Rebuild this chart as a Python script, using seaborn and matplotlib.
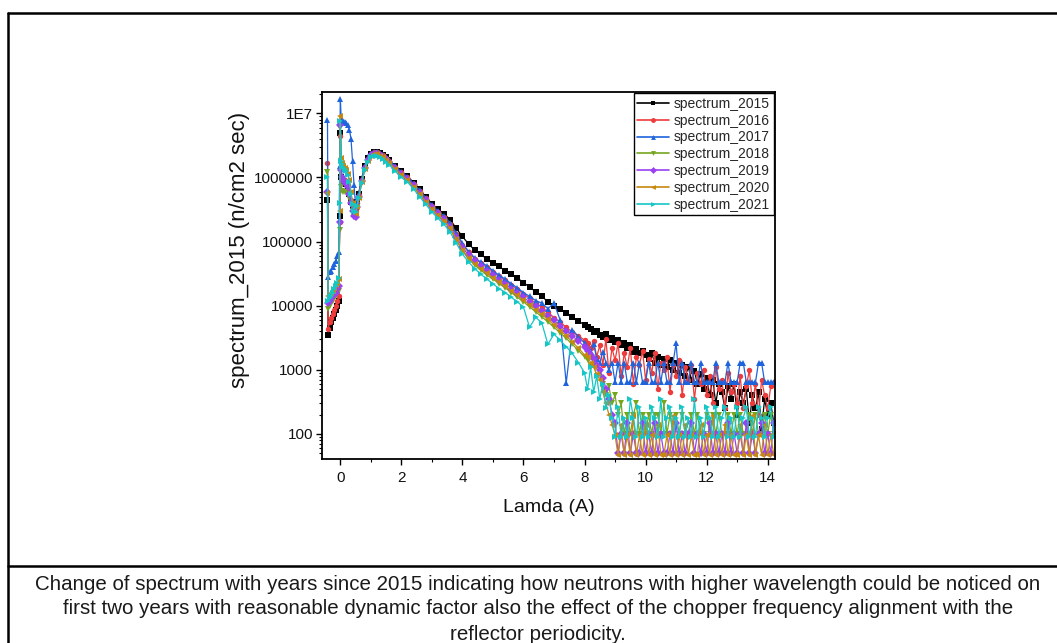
import numpy as np
import pandas as pd
import matplotlib
matplotlib.use("Agg")
import matplotlib.pyplot as plt
import seaborn as sns
from matplotlib.lines import Line2D
from matplotlib.ticker import FixedLocator, FixedFormatter, LogLocator, MultipleLocator, NullFormatter

sns.set_theme(style="white")
plt.rcParams['font.family'] = ['Liberation Sans', 'DejaVu Sans']

# wavelength grid (A)
lam_peak = [-0.42, -0.40, -0.35, -0.30, -0.25, -0.20, -0.15, -0.10, -0.05, -0.02,
            0.00, 0.03, 0.06, 0.10, 0.15, 0.20, 0.25, 0.30, 0.35, 0.40,
            0.45, 0.50,
            0.55, 0.60, 0.70, 0.80, 0.90, 1.00, 1.10, 1.20, 1.30, 1.40, 1.50, 1.60, 1.80, 2.00]
lam_mid = [2.2, 2.4, 2.6, 2.8, 3.0, 3.2, 3.4, 3.6, 3.8, 4.0,
           4.2, 4.4, 4.6, 4.8, 5.0, 5.2, 5.4, 5.6, 5.8, 6.0,
           6.2, 6.4, 6.6, 6.8, 7.0, 7.2, 7.4, 7.6, 7.8, 8.0]
lam_tail = [8.1, 8.2, 8.3, 8.4, 8.5, 8.6, 8.7, 8.8, 8.9, 9.0,
            9.1, 9.2, 9.3, 9.4, 9.5, 9.6, 9.7, 9.8, 9.9, 10.0,
            10.1, 10.2, 10.3, 10.4, 10.5, 10.6, 10.7, 10.8, 10.9, 11.0,
            11.1, 11.2, 11.3, 11.4, 11.5, 11.6, 11.7, 11.8, 11.9, 12.0,
            12.1, 12.2, 12.3, 12.4, 12.5, 12.6, 12.7, 12.8, 12.9, 13.0,
            13.1, 13.2, 13.3, 13.4, 13.5, 13.6, 13.7, 13.8, 13.9, 14.0,
            14.1, 14.2]
lam = lam_peak + lam_mid + lam_tail

# flux (n/cm2 sec) per year
spectrum_2015 = [
    4.5e5, 3.5e3, 4.5e3, 5.5e3, 6.5e3, 7.5e3, 8.5e3, 1.0e4, 1.2e4, 2.5e5,
    5.0e6, 1.0e6, 9.0e5, 8.5e5, 8.5e5, 8.0e5, 7.0e5, 5.5e5, 4.2e5, 3.6e5,
    3.3e5, 3.4e5,
    4.2e5, 5.5e5, 9.5e5, 1.5e6, 2.0e6, 2.35e6, 2.5e6, 2.5e6, 2.4e6, 2.25e6, 2.05e6, 1.85e6, 1.5e6, 1.25e6,
    1.05e6, 8.3e5, 6.5e5, 5.0e5, 3.9e5, 3.2e5, 2.7e5, 2.2e5, 1.6e5, 1.2e5,
    9.2e4, 7.4e4, 6.3e4, 5.4e4, 4.7e4, 4.1e4, 3.5e4, 3.1e4, 2.7e4, 2.3e4,
    1.95e4, 1.65e4, 1.4e4, 1.15e4, 1.0e4, 8.8e3, 7.8e3, 6.6e3, 5.8e3, 5.0e3,
    4.6e3, 4.4e3, 3.9e3, 4.1e3, 3.5e3, 3.3e3, 3.6e3, 2.9e3, 3.1e3, 2.7e3,
    2.9e3, 2.4e3, 2.6e3, 2.2e3, 2.4e3, 1.9e3, 2.1e3, 1.8e3, 2.0e3, 1.7e3,
    1.5e3, 1.8e3, 1.3e3, 1.6e3, 1.2e3, 1.5e3, 1.1e3, 1.4e3, 1.0e3, 1.3e3,
    9.0e2, 1.2e3, 8.0e2, 1.1e3, 7.0e2, 9.5e2, 6.0e2, 8.5e2, 5.0e2, 7.5e2,
    4.0e2, 7.0e2, 3.0e2, 6.0e2, 4.5e2, 2.5e2, 5.5e2, 3.5e2, 6.0e2, 2.0e2,
    4.5e2, 3.0e2, 5.0e2, 1.5e2, 4.0e2, 2.5e2, 4.5e2, 1.2e2, 3.5e2, 2.0e2,
    3.0e2, 1.5e2]
spectrum_2016 = [
    1.7e6, 4.3e3, 5.5e3, 6.5e3, 7.5e3, 8.5e3, 1.0e4, 1.2e4, 1.4e4, 2.0e5,
    4.5e6, 9.5e5, 9.0e5, 9.0e5, 9.0e5, 8.5e5, 7.5e5, 6.0e5, 4.5e5, 3.6e5,
    3.1e5, 3.0e5,
    4.0e5, 5.3e5, 9.2e5, 1.45e6, 1.95e6, 2.3e6, 2.45e6, 2.45e6, 2.35e6, 2.2e6, 2.0e6, 1.8e6, 1.45e6, 1.2e6,
    1.0e6, 7.9e5, 6.2e5, 4.7e5, 3.6e5, 2.9e5, 2.4e5, 1.85e5, 1.3e5, 9.0e4,
    6.8e4, 5.4e4, 4.6e4, 4.0e4, 3.4e4, 2.9e4, 2.5e4, 2.1e4, 1.8e4, 1.55e4,
    1.3e4, 1.1e4, 9.5e3, 8.0e3, 6.5e3, 5.6e3, 4.6e3, 3.9e3, 3.4e3, 2.9e3,
    2.6e3, 2.2e3, 2.8e3, 1.6e3, 2.4e3, 1.2e3, 3.0e3, 9.0e2, 2.2e3, 1.4e3,
    2.6e3, 8.0e2, 1.8e3, 1.1e3, 2.2e3, 6.0e2, 1.6e3, 1.2e3, 2.0e3, 7.0e2,
    1.5e3, 9.0e2, 1.8e3, 5.0e2, 1.3e3, 1.0e3, 1.6e3, 4.5e2, 1.2e3, 8.0e2,
    1.4e3, 4.0e2, 1.1e3, 7.0e2, 1.2e3, 3.5e2, 9.0e2, 6.0e2, 1.0e3, 4.0e2,
    8.0e2, 3.0e2, 1.1e3, 5.0e2, 7.0e2, 2.5e2, 9.0e2, 4.5e2, 6.0e2, 3.0e2,
    8.0e2, 2.5e2, 5.5e2, 1.0e3, 3.0e2, 6.0e2, 2.0e2, 7.0e2, 4.0e2, 2.5e2,
    5.5e2, 6.5e2]
spectrum_2017 = [
    7.8e6, 2.8e4, 3.3e4, 3.5e4, 4.0e4, 4.5e4, 5.0e4, 6.0e4, 7.0e4, 1.5e6,
    1.7e7, 8.0e6, 7.8e6, 7.6e6, 7.4e6, 7.0e6, 6.5e6, 5.5e6, 4.0e6, 1.8e6,
    7.5e5, 3.7e5,
    4.3e5, 5.6e5, 9.6e5, 1.5e6, 2.0e6, 2.35e6, 2.5e6, 2.5e6, 2.4e6, 2.25e6, 2.05e6, 1.85e6, 1.5e6, 1.22e6,
    1.02e6, 8.0e5, 6.3e5, 4.8e5, 3.7e5, 3.0e5, 2.5e5, 1.95e5, 1.35e5, 9.5e4,
    7.0e4, 5.6e4, 4.8e4, 4.2e4, 3.5e4, 3.0e4, 2.6e4, 2.2e4, 1.9e4, 1.6e4,
    1.4e4, 1.2e4, 1.1e4, 9.0e3, 1.1e4, 6.0e3, 6.2e2, 4.2e3, 3.3e3, 2.6e3,
    2.2e3, 1.9e3, 2.5e3, 1.5e3, 1.3e3, 1.9e3, 1.3e3, 1.0e3, 1.3e3, 6.4e2,
    1.3e3, 6.4e2, 1.3e3, 6.4e2, 6.4e2, 1.3e3, 6.4e2, 1.3e3, 6.4e2, 6.4e2,
    1.3e3, 6.4e2, 6.4e2, 1.3e3, 6.4e2, 1.3e3, 6.4e2, 6.4e2, 1.3e3, 2.6e3,
    6.4e2, 1.3e3, 6.4e2, 6.4e2, 1.3e3, 6.4e2, 6.4e2, 1.3e3, 6.4e2, 6.4e2,
    6.4e2, 6.4e2, 1.3e3, 6.4e2, 6.4e2, 6.4e2, 1.3e3, 6.4e2, 6.4e2, 6.4e2,
    1.3e3, 1.3e3, 6.4e2, 6.4e2, 6.4e2, 6.4e2, 1.3e3, 1.3e3, 6.4e2, 6.4e2,
    6.4e2, 6.4e2]
spectrum_2018 = [
    1.2e6, 9.0e3, 1.0e4, 1.1e4, 1.2e4, 1.3e4, 1.4e4, 1.5e4, 1.7e4, 1.5e5,
    6.0e6, 7.0e5, 6.2e5, 6.0e5, 6.0e5, 6.0e5, 5.5e5, 4.8e5, 3.8e5, 3.0e5,
    2.4e5, 2.3e5,
    3.3e5, 4.6e5, 8.3e5, 1.32e6, 1.8e6, 2.1e6, 2.25e6, 2.25e6, 2.15e6, 2.0e6, 1.85e6, 1.65e6, 1.32e6, 1.08e6,
    9.0e5, 7.0e5, 5.4e5, 4.1e5, 3.15e5, 2.5e5, 2.05e5, 1.55e5, 1.05e5, 7.2e4,
    5.4e4, 4.3e4, 3.6e4, 3.0e4, 2.6e4, 2.2e4, 1.9e4, 1.6e4, 1.35e4, 1.15e4,
    9.6e3, 8.0e3, 6.7e3, 5.6e3, 4.6e3, 3.8e3, 3.1e3, 2.5e3, 2.0e3, 1.6e3,
    1.4e3, 1.1e3, 1.2e3, 8.0e2, 9.0e2, 6.0e2, 4.0e2, 5.5e2, 3.0e2, 4.0e2,
    2.0e2, 3.0e2, 1.0e2, 2.0e2, 1.0e2, 2.0e2, 3.0e2, 1.0e2, 2.0e2, 1.0e2,
    2.0e2, 1.0e2, 2.0e2, 2.0e2, 1.0e2, 3.0e2, 1.0e2, 2.0e2, 1.0e2, 2.0e2,
    1.0e2, 2.0e2, 1.0e2, 1.0e2, 2.0e2, 1.0e2, 2.0e2, 1.0e2, 1.0e2, 2.0e2,
    1.0e2, 2.0e2, 1.0e2, 2.0e2, 1.0e2, 1.0e2, 2.0e2, 1.0e2, 2.0e2, 1.0e2,
    2.0e2, 1.0e2, 1.0e2, 2.0e2, 1.0e2, 2.0e2, 1.0e2, 1.0e2, 2.0e2, 1.0e2,
    2.0e2, 1.0e2]
spectrum_2019 = [
    6.0e5, 1.1e4, 1.2e4, 1.3e4, 1.4e4, 1.5e4, 1.6e4, 1.8e4, 2.0e4, 2.0e5,
    6.5e6, 1.3e6, 1.0e6, 9.0e5, 8.5e5, 8.0e5, 7.0e5, 5.5e5, 4.0e5, 3.0e5,
    2.5e5, 2.4e5,
    3.5e5, 4.9e5, 8.8e5, 1.4e6, 1.9e6, 2.2e6, 2.35e6, 2.35e6, 2.25e6, 2.1e6, 1.95e6, 1.75e6, 1.4e6, 1.15e6,
    9.6e5, 7.5e5, 5.8e5, 4.4e5, 3.4e5, 2.75e5, 2.25e5, 1.7e5, 1.18e5, 8.2e4,
    6.1e4, 4.9e4, 4.1e4, 3.5e4, 3.0e4, 2.55e4, 2.2e4, 1.85e4, 1.58e4, 1.35e4,
    1.15e4, 9.8e3, 8.3e3, 7.0e3, 5.9e3, 4.9e3, 4.1e3, 3.4e3, 2.8e3, 2.3e3,
    2.0e3, 1.7e3, 1.5e3, 1.2e3, 1.0e3, 7.5e2, 5.0e2, 3.5e2, 2.0e2, 1.5e2,
    5.0e1, 1.0e2, 5.0e1, 1.5e2, 5.0e1, 1.0e2, 5.0e1, 5.0e1, 1.5e2, 5.0e1,
    1.0e2, 5.0e1, 1.5e2, 5.0e1, 1.0e2, 5.0e1, 5.0e1, 1.0e2, 5.0e1, 1.5e2,
    5.0e1, 1.0e2, 5.0e1, 1.0e2, 1.5e2, 5.0e1, 1.0e2, 5.0e1, 1.0e2, 5.0e1,
    1.5e2, 5.0e1, 1.0e2, 5.0e1, 1.0e2, 5.0e1, 1.5e2, 5.0e1, 1.0e2, 5.0e1,
    1.0e2, 5.0e1, 1.5e2, 5.0e1, 1.0e2, 5.0e1, 1.0e2, 1.5e2, 5.0e1, 1.0e2,
    5.0e1, 1.5e2]
spectrum_2020 = [
    5.8e5, 1.4e4, 1.5e4, 1.6e4, 1.7e4, 1.9e4, 2.1e4, 2.3e4, 2.6e4, 3.0e5,
    9.0e6, 2.0e6, 1.7e6, 1.5e6, 1.4e6, 1.3e6, 1.15e6, 9.0e5, 6.0e5, 4.0e5,
    2.9e5, 2.7e5,
    3.5e5, 4.8e5, 8.6e5, 1.35e6, 1.82e6, 2.15e6, 2.28e6, 2.28e6, 2.18e6, 2.05e6, 1.88e6, 1.7e6, 1.35e6, 1.1e6,
    9.2e5, 7.2e5, 5.5e5, 4.2e5, 3.2e5, 2.6e5, 2.1e5, 1.6e5, 1.1e5, 7.5e4,
    5.6e4, 4.5e4, 3.8e4, 3.2e4, 2.75e4, 2.35e4, 2.0e4, 1.7e4, 1.45e4, 1.22e4,
    1.03e4, 8.7e3, 7.3e3, 6.1e3, 5.0e3, 4.1e3, 3.4e3, 2.7e3, 2.2e3, 1.7e3,
    1.6e3, 1.3e3, 1.1e3, 8.5e2, 7.0e2, 4.5e2, 3.0e2, 2.0e2, 1.4e2, 9.5e1,
    4.7e1, 1.4e2, 4.7e1, 9.5e1, 4.7e1, 1.9e2, 4.7e1, 9.5e1, 4.7e1, 1.4e2,
    4.7e1, 9.5e1, 4.7e1, 1.4e2, 4.7e1, 4.7e1, 9.5e1, 4.7e1, 1.9e2, 4.7e1,
    9.5e1, 4.7e1, 1.4e2, 4.7e1, 9.5e1, 4.7e1, 4.7e1, 1.4e2, 4.7e1, 9.5e1,
    4.7e1, 1.9e2, 4.7e1, 9.5e1, 4.7e1, 1.4e2, 4.7e1, 9.5e1, 4.7e1, 4.7e1,
    1.4e2, 4.7e1, 9.5e1, 4.7e1, 1.9e2, 4.7e1, 9.5e1, 4.7e1, 1.4e2, 4.7e1,
    9.5e1, 4.7e1]
spectrum_2021 = [
    1.0e6, 1.2e4, 1.3e4, 1.4e4, 1.6e4, 1.8e4, 2.0e4, 2.3e4, 2.7e4, 4.0e5,
    7.5e6, 1.8e6, 1.6e6, 1.45e6, 1.35e6, 1.25e6, 1.1e6, 8.5e5, 5.5e5, 3.8e5,
    3.0e5, 2.9e5,
    3.6e5, 4.8e5, 8.3e5, 1.3e6, 1.75e6, 2.05e6, 2.15e6, 2.15e6, 2.05e6, 1.92e6, 1.75e6, 1.58e6, 1.25e6, 1.0e6,
    8.5e5, 6.6e5, 5.0e5, 3.8e5, 2.9e5, 2.3e5, 1.85e5, 1.4e5, 9.5e4, 6.4e4,
    4.8e4, 3.8e4, 3.1e4, 2.6e4, 2.2e4, 1.85e4, 1.6e4, 1.35e4, 1.15e4, 9.5e3,
    4.6e3, 6.6e3, 5.4e3, 2.5e3, 3.6e3, 2.9e3, 2.3e3, 1.8e3, 1.3e3, 9.0e2,
    5.0e2, 1.1e3, 4.5e2, 8.0e2, 3.5e2, 6.0e2, 2.5e2, 4.0e2, 1.8e2, 9.0e1,
    2.6e2, 9.0e1, 1.8e2, 9.0e1, 3.5e2, 1.8e2, 9.0e1, 2.6e2, 9.0e1, 1.8e2,
    9.0e1, 2.6e2, 1.8e2, 9.0e1, 3.5e2, 9.0e1, 1.8e2, 2.6e2, 9.0e1, 1.8e2,
    9.0e1, 2.6e2, 9.0e1, 1.8e2, 9.0e1, 3.5e2, 9.0e1, 1.8e2, 9.0e1, 2.6e2,
    1.8e2, 9.0e1, 2.6e2, 9.0e1, 1.8e2, 2.6e2, 9.0e1, 1.8e2, 9.0e1, 2.6e2,
    9.0e1, 1.8e2, 2.6e2, 9.0e1, 1.8e2, 9.0e1, 2.6e2, 1.8e2, 9.0e1, 1.8e2,
    2.6e2, 9.0e1]

series_names = ['spectrum_2015', 'spectrum_2016', 'spectrum_2017', 'spectrum_2018',
                'spectrum_2019', 'spectrum_2020', 'spectrum_2021']
series_values = [spectrum_2015, spectrum_2016, spectrum_2017, spectrum_2018,
                 spectrum_2019, spectrum_2020, spectrum_2021]
colors = ['#000000', '#EE3B3B', '#1E64DC', '#74A61E', '#9B41F3', '#C6880F', '#16C6C6']
markers = ['s', 'o', '^', 'v', 'D', '<', '>']

ytick_vals = [1e2, 1e3, 1e4, 1e5, 1e6, 1e7]
ytick_labels = ['100', '1000', '10000', '100000', '1000000', '1E7']

caption = ["Change of spectrum with years since 2015 indicating how neutrons with higher wavelength could be noticed on",
           "first two years with reasonable dynamic factor also the effect of the chopper frequency alignment with the",
           "reflector periodicity."]

# long table for seaborn
frames = []
for name, vals in zip(series_names, series_values):
    assert len(vals) == len(lam), (name, len(vals))
    frames.append(pd.DataFrame({'lam': lam, 'flux': vals, 'series': name}))
df = pd.concat(frames, ignore_index=True)

fig = plt.figure(figsize=(10.57, 6.43), dpi=100)
W, H = 1057, 643
ax = fig.add_axes([322 / W, 1 - 459 / H, 453 / W, 367 / H])

sns.lineplot(data=df, x='lam', y='flux', hue='series', style='series',
             hue_order=series_names, style_order=series_names,
             palette=dict(zip(series_names, colors)),
             markers=dict(zip(series_names, markers)), dashes=False,
             estimator=None, sort=False, lw=0.9, markersize=3.9,
             markeredgewidth=0, ax=ax)

ax.set_yscale('log')
ax.set_xlim(-0.6, 14.24)
ax.set_ylim(40.7, 2.15e7)

ax.yaxis.set_major_locator(FixedLocator(ytick_vals))
ax.yaxis.set_major_formatter(FixedFormatter(ytick_labels))
ax.yaxis.set_minor_locator(LogLocator(base=10, subs=np.arange(2, 10)))
ax.yaxis.set_minor_formatter(NullFormatter())
ax.xaxis.set_major_locator(MultipleLocator(2))
ax.xaxis.set_minor_locator(MultipleLocator(1))

ax.tick_params(which='both', direction='out', left=True, bottom=True, top=False, right=False,
               labelsize=11, color='black', labelcolor='#111111')
ax.tick_params(which='major', length=4.5, width=1)
ax.tick_params(which='minor', length=2.4, width=0.8)
ax.tick_params(axis='x', pad=4)
ax.tick_params(axis='y', pad=2)
for sp in ax.spines.values():
    sp.set_color('black')
    sp.set_linewidth(1.3)

ax.set_xlabel('Lamda (A)', fontsize=14, color='#111111')
ax.set_ylabel('spectrum_2015 (n/cm2 sec)', fontsize=16, color='#111111')
ax.xaxis.label.set_va('center')
ax.yaxis.label.set_va('center')
ax.xaxis.set_label_coords(0.5, (459 - 507) / 367)
ax.yaxis.set_label_coords((239 - 322) / 453, (459 - 250) / 367)

handles, labels = ax.get_legend_handles_labels()
leg = ax.legend(handles, labels, loc='upper right', fontsize=10, frameon=True,
                fancybox=False, edgecolor='black', framealpha=1, borderpad=0.25,
                labelspacing=0.2, handlelength=2.3, handletextpad=0.35,
                borderaxespad=0.1)
leg.get_frame().set_linewidth(1.0)
for h in leg.legend_handles:
    h.set_linewidth(1.2)
    h.set_markersize(3.5)

# page frame around the figure and caption
lw = 1.8
fig.add_artist(Line2D([7.5 / W, 7.5 / W], [0, 1 - 13 / H], color='black', lw=lw, transform=fig.transFigure))
fig.add_artist(Line2D([7.5 / W, 1], [1 - 13 / H, 1 - 13 / H], color='black', lw=lw, transform=fig.transFigure))
fig.add_artist(Line2D([7.5 / W, 1], [1 - 565.5 / H, 1 - 565.5 / H], color='black', lw=lw, transform=fig.transFigure))

for line, ypix in zip(caption, [584, 609, 634]):
    fig.text(538 / W, 1 - ypix / H, line, ha='center', va='center', fontsize=14.8, color='#1a1a1a')

fig.savefig('out.png', dpi=100)
